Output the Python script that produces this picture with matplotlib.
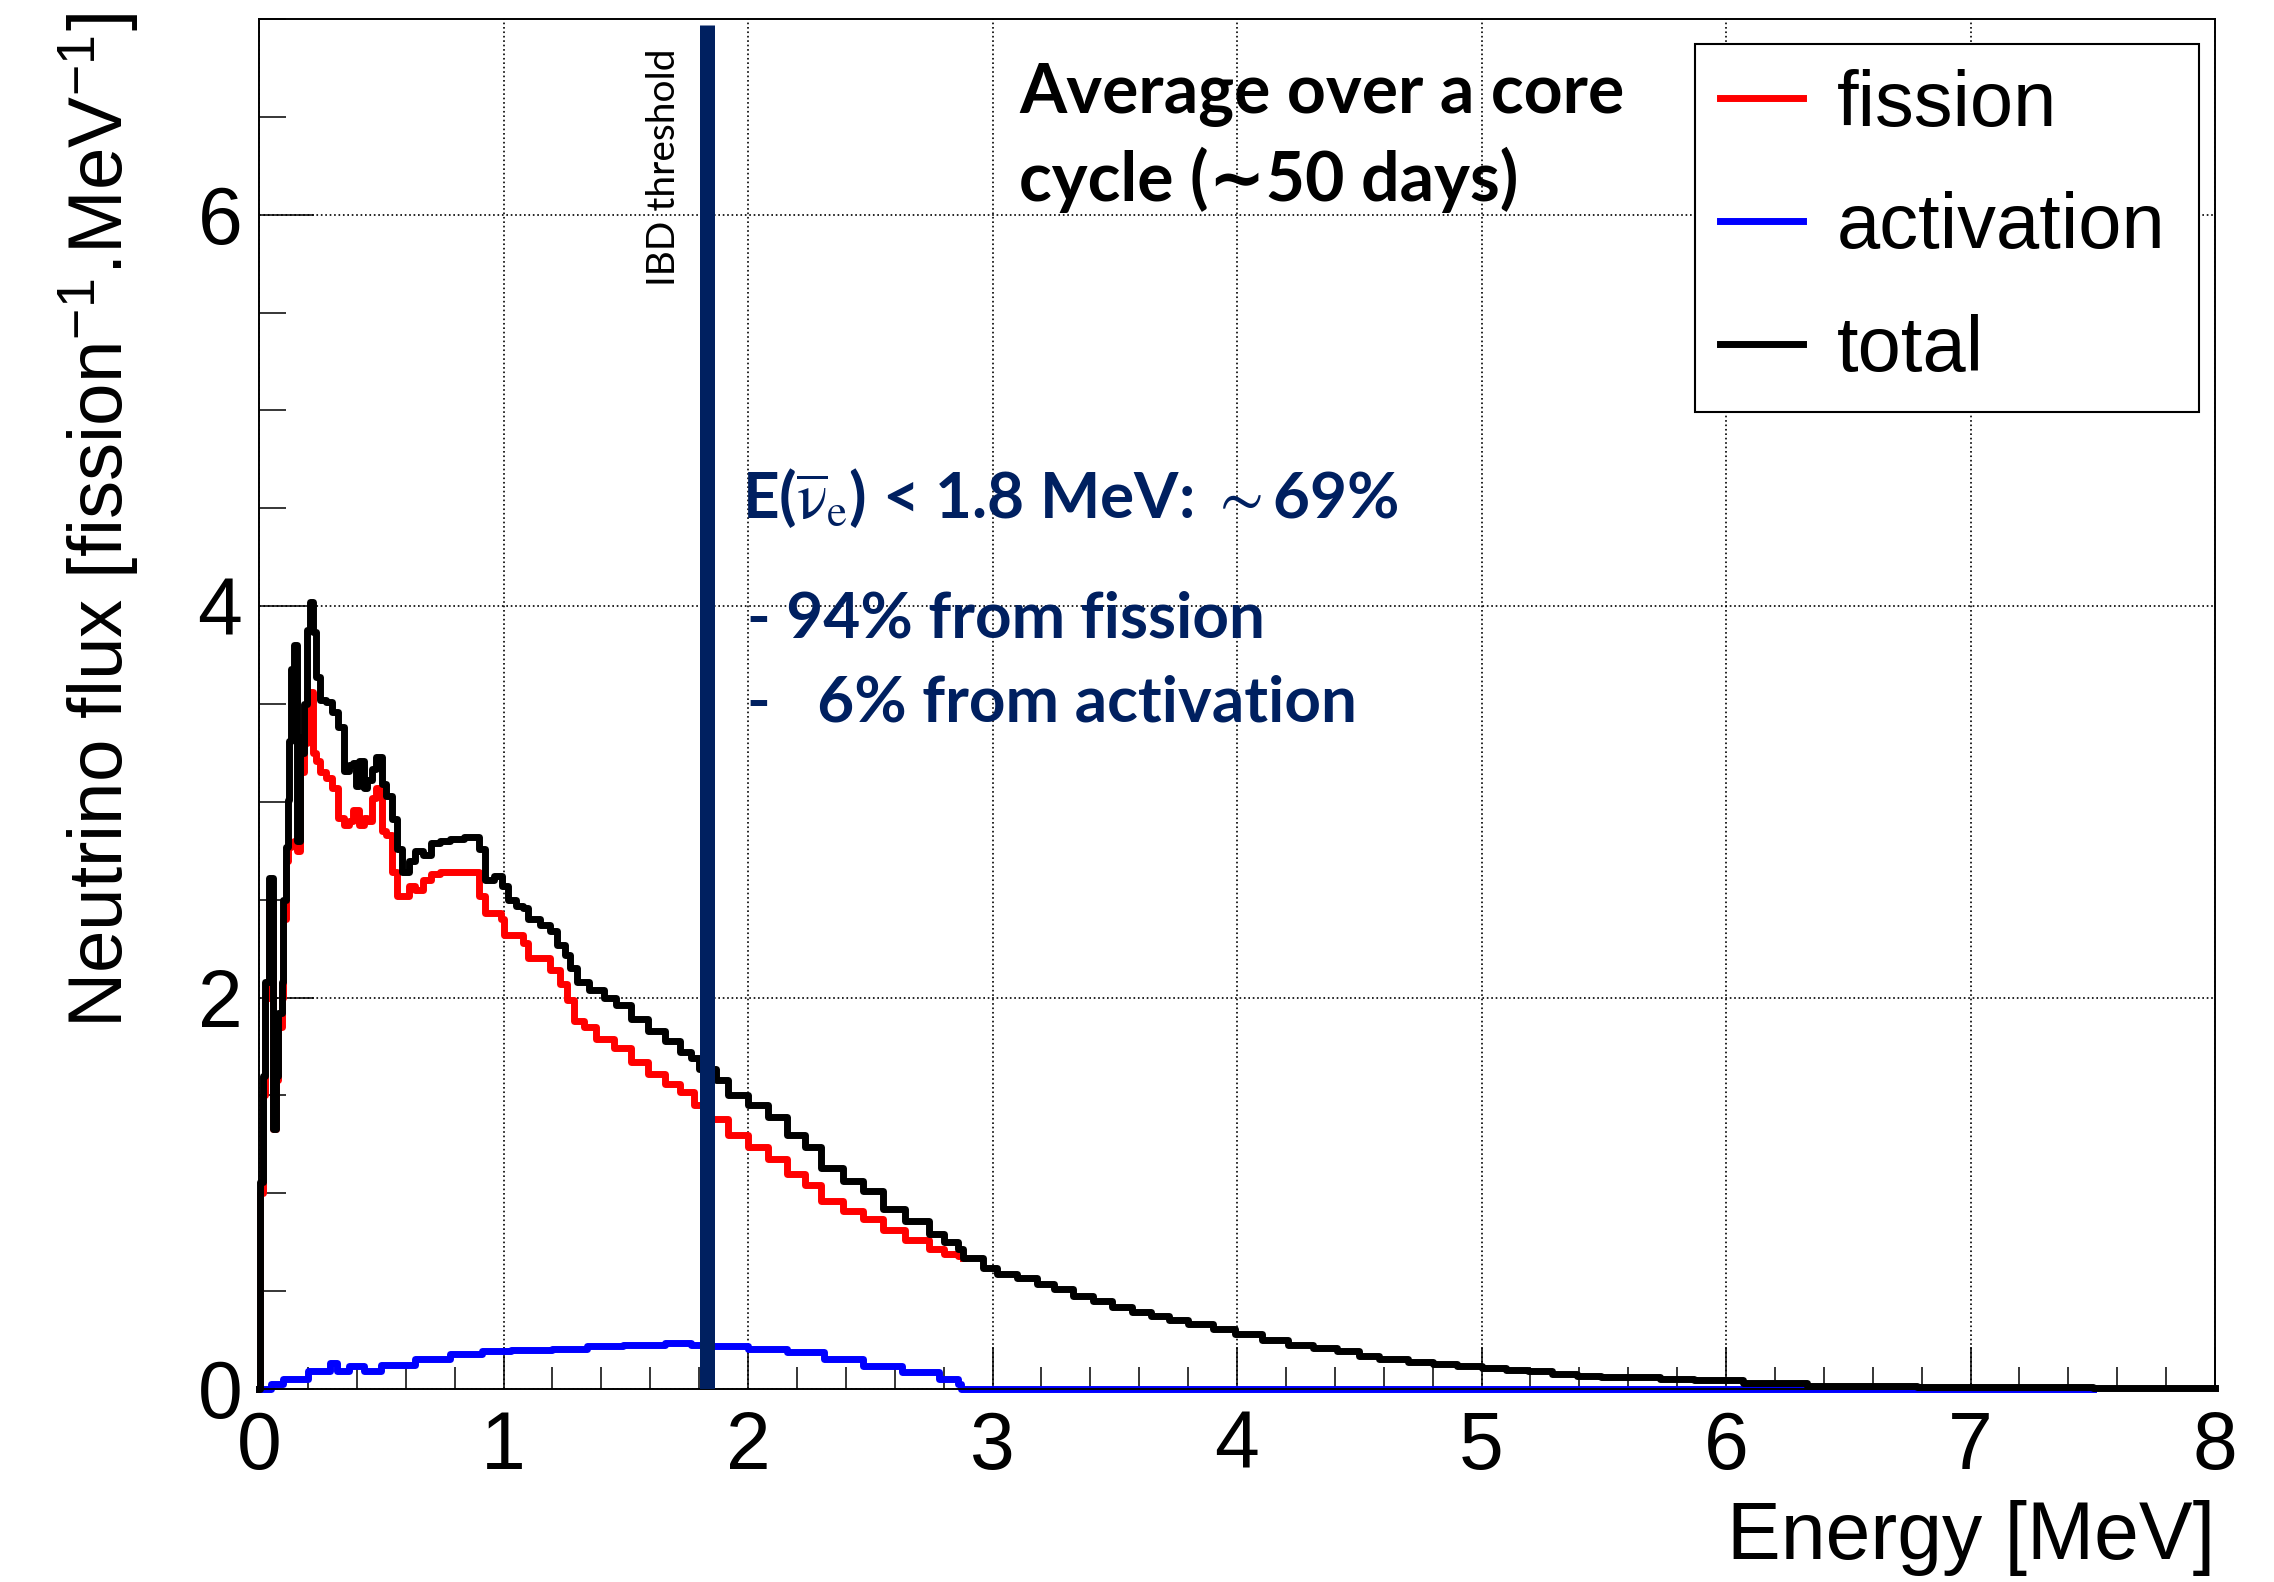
import matplotlib.pyplot as plt
from matplotlib.ticker import MultipleLocator

plt.rcParams['font.family'] = ['Liberation Sans', 'DejaVu Sans']
plt.rcParams['mathtext.fontset'] = 'stix'

# total spectrum: bin left edge [MeV] and flux
e_total = [0.000, 0.005, 0.017, 0.025, 0.040, 0.058, 0.068, 0.078, 0.092, 0.097,
           0.110, 0.117, 0.123, 0.132, 0.143, 0.157, 0.167, 0.177, 0.184, 0.197,
           0.208, 0.221, 0.232, 0.249, 0.273, 0.300, 0.324, 0.347, 0.368, 0.384,
           0.395, 0.409, 0.429, 0.443, 0.463, 0.477, 0.504, 0.518, 0.545, 0.566,
           0.586, 0.613, 0.640, 0.670, 0.702, 0.740, 0.780, 0.840, 0.900, 0.925,
           0.960, 0.995, 1.02, 1.05, 1.08, 1.10, 1.15, 1.19, 1.22, 1.25,
           1.27, 1.30, 1.35, 1.41, 1.46, 1.52, 1.59, 1.66, 1.72, 1.765,
           1.80, 1.867, 1.92, 2.00, 2.08, 2.16, 2.235, 2.30, 2.39, 2.47,
           2.55, 2.64, 2.74, 2.80, 2.86, 2.88, 2.96, 3.02, 3.10, 3.18,
           3.25, 3.33, 3.41, 3.49, 3.57, 3.65, 3.72, 3.80, 3.90, 3.99,
           4.10, 4.21, 4.31, 4.41, 4.50, 4.58, 4.70, 4.80, 4.90, 5.00,
           5.10, 5.19, 5.29, 5.39, 5.49, 5.59, 5.73, 5.87, 6.07, 6.33,
           6.78, 7.50, 8.00]
flux_total = [0.00, 1.06, 1.60, 2.08, 2.61, 1.33, 1.60, 1.92, 2.08, 2.50,
              2.77, 3.01, 3.31, 3.68, 3.80, 2.80, 3.33, 3.25, 3.50, 3.88,
              4.02, 3.87, 3.64, 3.52, 3.51, 3.46, 3.38, 3.16, 3.19, 3.20,
              3.08, 3.21, 3.07, 3.11, 3.17, 3.23, 3.09, 3.03, 2.91, 2.76,
              2.64, 2.70, 2.75, 2.73, 2.79, 2.80, 2.81, 2.82, 2.76, 2.60,
              2.62, 2.57, 2.50, 2.47, 2.46, 2.40, 2.37, 2.34, 2.27, 2.22,
              2.15, 2.08, 2.04, 2.00, 1.96, 1.89, 1.83, 1.78, 1.72, 1.69,
              1.635, 1.58, 1.50, 1.45, 1.39, 1.30, 1.235, 1.13, 1.065, 1.01,
              0.92, 0.86, 0.79, 0.75, 0.715, 0.67, 0.62, 0.59, 0.565, 0.537,
              0.51, 0.477, 0.45, 0.417, 0.395, 0.375, 0.35, 0.332, 0.305, 0.281,
              0.25, 0.227, 0.21, 0.192, 0.17, 0.153, 0.14, 0.129, 0.118, 0.107,
              0.098, 0.09, 0.078, 0.068, 0.063, 0.06, 0.052, 0.044, 0.031, 0.017,
              0.009, 0.003, 0.003]

# fission part (equal to total above ~2.9 MeV, hidden under it)
e_fission = [0.000, 0.005, 0.017, 0.025, 0.040, 0.058, 0.068, 0.078, 0.092, 0.097,
             0.110, 0.117, 0.132, 0.143, 0.157, 0.167, 0.177, 0.184, 0.197, 0.221,
             0.232, 0.249, 0.273, 0.300, 0.324, 0.347, 0.368, 0.384, 0.409, 0.429,
             0.443, 0.463, 0.477, 0.504, 0.518, 0.545, 0.566, 0.613, 0.640, 0.670,
             0.702, 0.740, 0.840, 0.900, 0.925, 0.990, 1.00, 1.08, 1.10, 1.19,
             1.23, 1.26, 1.29, 1.33, 1.38, 1.45, 1.52, 1.59, 1.66, 1.72,
             1.78, 1.85, 1.92, 2.00, 2.08, 2.16, 2.235, 2.30, 2.39, 2.47,
             2.55, 2.64, 2.74, 2.80, 2.86, 2.88]
flux_fission = [0.00, 1.00, 1.50, 2.00, 2.50, 1.33, 1.58, 1.85, 2.00, 2.40,
                2.70, 2.77, 2.78, 2.80, 2.75, 3.20, 3.15, 3.30, 3.56, 3.25,
                3.21, 3.15, 3.12, 3.07, 2.92, 2.88, 2.90, 2.96, 2.88, 2.92,
                2.90, 3.02, 3.07, 2.85, 2.83, 2.64, 2.52, 2.57, 2.55, 2.60,
                2.63, 2.64, 2.64, 2.52, 2.43, 2.40, 2.32, 2.28, 2.20, 2.14,
                2.07, 1.99, 1.88, 1.85, 1.79, 1.74, 1.67, 1.61, 1.56, 1.52,
                1.45, 1.38, 1.30, 1.235, 1.175, 1.10, 1.04, 0.96, 0.91, 0.87,
                0.81, 0.76, 0.715, 0.69, 0.68, 0.67]

# activation part
e_activation = [0.00, 0.05, 0.10, 0.20, 0.29, 0.32, 0.37, 0.43, 0.50, 0.64,
                0.78, 0.91, 1.03, 1.20, 1.34, 1.49, 1.66, 1.765, 1.83, 2.00,
                2.16, 2.31, 2.47, 2.63, 2.78, 2.86, 2.87, 7.50]
flux_activation = [0.00, 0.025, 0.05, 0.09, 0.135, 0.09, 0.115, 0.09, 0.125, 0.155,
                   0.18, 0.195, 0.20, 0.205, 0.218, 0.227, 0.235, 0.225, 0.222, 0.206,
                   0.188, 0.155, 0.12, 0.086, 0.052, 0.026, 0.0, 0.0]

ibd_threshold = 1.834
navy = '#002060'

fig = plt.figure(figsize=(22.74, 15.82), dpi=100)
ax = fig.add_axes([0.1139, 0.1220, 0.8602, 0.8660])

lw = 5
ax.step(e_fission, flux_fission, where='post', color='red', lw=lw, label='fission', clip_on=False)
ax.step(e_activation, flux_activation, where='post', color='blue', lw=lw, label='activation', clip_on=False)
ax.step(e_total, flux_total, where='post', color='black', lw=lw, label='total', clip_on=False)

ax.plot([ibd_threshold, ibd_threshold], [0, 6.97], color=navy, lw=10.8,
        solid_capstyle='butt', zorder=5)

ax.set_xlim(0, 8)
ax.set_ylim(0, 7)
ax.xaxis.set_major_locator(MultipleLocator(1))
ax.xaxis.set_minor_locator(MultipleLocator(0.2))
ax.yaxis.set_major_locator(MultipleLocator(2))
ax.yaxis.set_minor_locator(MultipleLocator(0.5))
ax.tick_params(which='both', direction='in', top=False, right=False, width=1.1)
ax.tick_params(axis='x', which='major', length=30, labelsize=58, pad=15)
ax.tick_params(axis='x', which='minor', length=16)
ax.tick_params(axis='y', which='major', length=39.6, labelsize=58, pad=12)
ax.tick_params(axis='y', which='minor', length=19.4)
for s in ax.spines.values():
    s.set_linewidth(1.4)
ax.set_axisbelow(True)
ax.grid(True, which='major', linestyle=':', color='black', lw=1.2)

ax.set_xlabel('Energy [MeV]', fontsize=58, loc='right')
ax.xaxis.set_label_coords(1.0, -0.081)
ax.set_ylabel(r'Neutrino flux [fission$^{\mathregular{-1}}$.MeV$^{\mathregular{-1}}$]',
              fontsize=55, loc='top')
ax.yaxis.set_label_coords(-0.0604, 1.004)

leg = ax.legend(loc='upper left', bbox_to_anchor=(0.734, 0.715, 0.258, 0.267),
                mode='expand', fontsize=56, handlelength=1.07, handletextpad=0.44,
                borderpad=0.32, labelspacing=0.64, borderaxespad=0,
                fancybox=False, edgecolor='black', framealpha=1)
leg.get_frame().set_linewidth(1.5)
for line in leg.get_lines():
    line.set_linewidth(lw)

lato = ['Lato', 'DejaVu Sans']
ax.text(3.11, 6.52, 'Average over a core', fontsize=49, fontweight='bold',
        family=lato, va='baseline')
ax.text(3.11, 6.07, 'cycle (\u223c50 days)', fontsize=49, fontweight='bold',
        family=lato, va='baseline')

ax.text(1.655, 6.24, 'IBD threshold', rotation=90, ha='center', va='center',
        fontsize=28, family=lato)

ax.text(1.977, 4.45, 'E($\\overline{\\mathrm{\\nu}}_{\\mathrm{e}}$) < 1.8 MeV: $\\sim$69%',
        fontsize=46, fontweight='bold', family=lato, color=navy, va='baseline')
ax.text(1.995, 3.84, '- 94% from fission', fontsize=46, fontweight='bold',
        family=lato, color=navy, va='baseline')
ax.text(1.995, 3.41, '-   6% from activation', fontsize=46, fontweight='bold',
        family=lato, color=navy, va='baseline')

fig.savefig('out.png', dpi=100)
